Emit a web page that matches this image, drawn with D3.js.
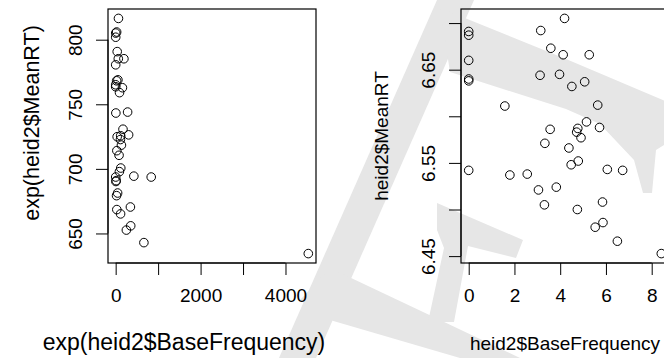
<!DOCTYPE html>
<html><head><meta charset="utf-8">
<script src="https://cdn.jsdelivr.net/npm/d3@7"></script>
<style>body{margin:0;background:#fff}svg{display:block}text{font-family:"Liberation Sans",Arial,sans-serif;fill:#000}</style>
</head><body><svg id="c" width="664" height="358"></svg>
<script>
// log base frequency and log mean RT for each word
const baseFrequency = [0,0,0,0,0,0,1.58,1.80,2.56,3.15,3.59,4.13,4.19,5.27,3.12,3.97,4.51,5.07,5.64,3.56,3.33,4.77,4.72,4.91,5.15,5.72,4.38,4.48,4.79,6.06,6.73,3.05,3.83,3.31,4.75,5.85,5.53,5.87,6.50,8.42];
const meanRT = [6.691,6.687,6.660,6.640,6.638,6.542,6.611,6.537,6.538,6.692,6.673,6.666,6.705,6.666,6.644,6.645,6.632,6.637,6.612,6.586,6.571,6.587,6.583,6.577,6.594,6.588,6.566,6.548,6.552,6.543,6.542,6.521,6.524,6.505,6.500,6.508,6.481,6.486,6.466,6.4527];
const leftXTicks = [0,1000,2000,3000,4000];
const leftXLabels = [0,2000,4000];
const leftYTicks = [650,700,750,800];
const rightXTicks = [0,2,4,6,8];
const rightYTicks = [6.45,6.50,6.55,6.60,6.65,6.70];
const rightYLabels = [6.45,6.55,6.65];
const leftTitles = ["exp(heid2$BaseFrequency)","exp(heid2$MeanRT)"];
const rightTitles = ["heid2$BaseFrequency","heid2$MeanRT"];

const svg = d3.select("#c");
const FS = 19;

// watermark (light grey letter shapes)
const wm = svg.append("g").attr("fill","#e6e6e6");
const wmShapes = [
  [[437,0],[474,0],[316,358],[279,358]],
  [[440,8],[566,59],[672,104],[672,140],[656,150],[652,193],[643,193],[634,160],[600,124],[566,109],[450,72]],
  [[300,300],[330,268],[440,320],[520,358],[460,358],[330,320]],
  [[437,203],[523,240],[516,258],[468,246],[454,322],[428,322],[444,248],[437,230]]
];
wmShapes.forEach(s=>wm.append("path").attr("d",d3.line().curve(d3.curveLinearClosed)(s)));

function pad(ext){const r=ext[1]-ext[0];return [ext[0]-0.04*r, ext[1]+0.04*r];}

function panel(box, xs, ys, xTicks, xLabels, yTicks, yLabels, titles, fmtY){
  const x = d3.scaleLinear().domain(pad(d3.extent(xs))).range([box.l, box.r]);
  const y = d3.scaleLinear().domain(pad(d3.extent(ys))).range([box.b, box.t]);
  const g = svg.append("g");
  const xa = d3.axisBottom(x).tickValues(xTicks).tickSize(12).tickFormat(d=>xLabels.includes(d)?String(d):"");
  const gx = g.append("g").attr("transform",`translate(0,${box.b})`).call(xa);
  gx.select(".domain").attr("d",`M${x(xTicks[0])},0H${x(xTicks[xTicks.length-1])}`).attr("stroke","#000");
  gx.selectAll(".tick line").attr("stroke","#000");
  gx.selectAll(".tick text").attr("font-size",FS).attr("font-family","Liberation Sans").attr("y",26).attr("dy","0.71em").attr("fill","#000");
  const ya = d3.axisLeft(y).tickValues(yTicks).tickSize(12).tickFormat(d=>yLabels.includes(d)?fmtY(d):"");
  const gy = g.append("g").attr("transform",`translate(${box.l},0)`).call(ya);
  gy.select(".domain").attr("d",`M0,${y(yTicks[0])}V${y(yTicks[yTicks.length-1])}`).attr("stroke","#000");
  gy.selectAll(".tick line").attr("stroke","#000");
  gy.selectAll(".tick text").attr("font-size",FS).attr("font-family","Liberation Sans").attr("fill","#000")
    .attr("x",null).attr("dy",null).attr("text-anchor","middle")
    .attr("transform",`translate(${-box.l+box.ylab},0) rotate(-90)`);
  g.append("rect").attr("x",box.l).attr("y",box.t).attr("width",box.r-box.l).attr("height",box.b-box.t)
    .attr("fill","none").attr("stroke","#000").attr("stroke-width",1.2);
  g.append("g").selectAll("circle").data(xs.map((d,i)=>[d,ys[i]])).join("circle")
    .attr("cx",d=>x(d[0])).attr("cy",d=>y(d[1])).attr("r",4.3)
    .attr("fill","none").attr("stroke","#000").attr("stroke-width",1);
  g.append("text").attr("x",box.xtx).attr("y",box.xty).attr("text-anchor","middle").attr("font-size",box.xfs).text(titles[0]);
  g.append("text").attr("transform",`translate(${box.ytx},${box.yty}) rotate(-90)`).attr("text-anchor","middle").attr("font-size",box.yfs).text(titles[1]);
}

panel({l:108,r:316,t:9,b:263,ylab:82,xtx:184,xty:350,xfs:23,ytx:39,yty:123,yfs:21.5},
  baseFrequency.map(Math.exp), meanRT.map(Math.exp), leftXTicks, leftXLabels, leftYTicks, leftYTicks, leftTitles, d=>String(d));
panel({l:461,r:669,t:9,b:263,ylab:435,xtx:565,xty:350,xfs:19,ytx:388,yty:136,yfs:19},
  baseFrequency, meanRT, rightXTicks, rightXTicks, rightYTicks, rightYLabels, rightTitles, d3.format(".2f"));
</script></body></html>
